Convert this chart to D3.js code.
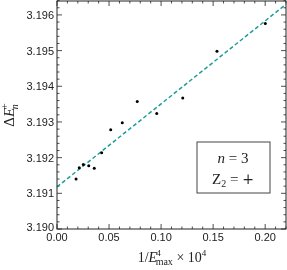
<!DOCTYPE html>
<html>
<head>
<meta charset="utf-8">
<script src="https://cdn.jsdelivr.net/npm/d3@7"></script>
<style>
  body { margin: 0; background: #fff; }
  svg { display: block; }
  .gray { will-change: transform; }
</style>
</head>
<body>
<svg id="chart" width="287" height="270"></svg>
<script>
const W = 287, H = 270;
const MARGIN = { left: 57, right: 1, top: 1, bottom: 41 };

// data
const xVals = [0.0183, 0.0214, 0.0253, 0.0305, 0.0358, 0.0429, 0.0516, 0.0627, 0.0771, 0.0958, 0.1208, 0.1537, 0.2001];
const yVals = [3.19140, 3.19172, 3.19181, 3.19177, 3.19170, 3.19214, 3.19278, 3.19298, 3.19357, 3.19324, 3.19367, 3.19498, 3.19576];
// fitted line: intercept and slope
const fitLine = [3.19118, 0.02327];
const xTicks = [0, 0.05, 0.10, 0.15, 0.20];
const yTicks = [3.190, 3.191, 3.192, 3.193, 3.194, 3.195, 3.196];

const svg = d3.select('#chart');

let x = d3.scaleLinear().domain([0, 0.22]).range([MARGIN.left, W - MARGIN.right]);
let y = d3.scaleLinear().domain([3.190, 3.19639]).range([H - MARGIN.bottom, MARGIN.top]);

const x0 = x.range()[0], x1 = x.range()[1];
const y0 = y.range()[0], y1 = y.range()[1];

// minor ticks
const xMinor = d3.range(0, 0.2201, 0.01);
const yMinor = d3.range(3.190, 3.1964, 0.0002);

const tickG = svg.append('g').attr('stroke', '#222').attr('stroke-width', 0.8);

xMinor.forEach(v => {
    let big = xTicks.some(t => Math.abs(t - v) < 1e-6);
    let len = big ? 5 : 2.5;
    tickG.append('line').attr('x1', x(v)).attr('x2', x(v)).attr('y1', y0).attr('y2', y0 - len);
    tickG.append('line').attr('x1', x(v)).attr('x2', x(v)).attr('y1', y1).attr('y2', y1 + len);
});
yMinor.forEach(v => {
    let big = yTicks.some(t => Math.abs(t - v) < 1e-7);
    let len = big ? 5 : 2.5;
    tickG.append('line').attr('y1', y(v)).attr('y2', y(v)).attr('x1', x0).attr('x2', x0 + len);
    tickG.append('line').attr('y1', y(v)).attr('y2', y(v)).attr('x1', x1).attr('x2', x1 - len);
});

// fit line
svg.append('line')
    .attr('x1', x(0)).attr('y1', y(fitLine[0]))
    .attr('x2', x(0.22)).attr('y2', y(fitLine[0] + fitLine[1] * 0.22))
    .attr('stroke', '#1f9c9c')
    .attr('stroke-width', 1.5)
    .attr('stroke-dasharray', '4,2.5');

// points
svg.append('g')
    .selectAll('circle')
    .data(xVals)
    .enter().append('circle')
    .attr('cx', (d, i) => x(d))
    .attr('cy', (d, i) => y(yVals[i]))
    .attr('r', 1.5)
    .attr('fill', '#000');

// frame
svg.append('rect')
    .attr('x', x0).attr('y', y1)
    .attr('width', x1 - x0).attr('height', y0 - y1)
    .attr('fill', 'none')
    .attr('stroke', '#222')
    .attr('stroke-width', 1);

// tick labels
svg.append('g')
    .selectAll('text')
    .data(xTicks)
    .enter().append('text')
    .attr('x', d => x(d))
    .attr('y', y0 + 12)
    .attr('text-anchor', 'middle')
    .attr('font-family', 'Liberation Sans, Arial, sans-serif')
    .attr('font-size', 11)
    .attr('fill', '#222')
    .text(d => d.toFixed(2));

svg.append('g')
    .selectAll('text')
    .data(yTicks)
    .enter().append('text')
    .attr('x', x0 - 3)
    .attr('y', d => y(d) + (d === 3.190 ? 2 : 4))
    .attr('text-anchor', 'end')
    .attr('font-family', 'Liberation Sans, Arial, sans-serif')
    .attr('font-size', 11)
    .attr('fill', '#222')
    .text(d => d.toFixed(3));

// axis titles
const serif = 'Liberation Serif, Times New Roman, serif';
const xt = svg.append('text')
    .attr('x', 172).attr('y', 262)
    .attr('text-anchor', 'middle')
    .attr('font-family', serif)
    .attr('font-size', 14)
    .attr('fill', '#222');
xt.append('tspan').text('1/');
xt.append('tspan').attr('font-style', 'italic').text('E');
xt.append('tspan').attr('font-size', 9).attr('dy', -6).attr('dx', -1).text('4');
xt.append('tspan').attr('font-size', 10).attr('dy', 9).attr('dx', -5).text('max');
xt.append('tspan').attr('dy', -3).text('\u00a0× 10');
xt.append('tspan').attr('font-size', 9).attr('dy', -6).text('4');

const yt = svg.append('text')
    .attr('transform', 'translate(14,115) rotate(-90)')
    .attr('text-anchor', 'middle')
    .attr('font-family', serif)
    .attr('font-size', 15)
    .attr('fill', '#222');
yt.append('tspan').text('Δ');
yt.append('tspan').attr('font-style', 'italic').text('E');
yt.append('tspan').attr('font-size', 10).attr('dy', -6).attr('dx', -1).text('+');
yt.append('tspan').attr('font-size', 10).attr('font-style', 'italic').attr('dy', 10).attr('dx', -6).text('n');

// legend box
const lg = svg.append('g');
lg.append('rect')
    .attr('x', 197).attr('y', 142)
    .attr('width', 73).attr('height', 51)
    .attr('fill', '#fff')
    .attr('stroke', '#444')
    .attr('stroke-width', 1);
const l1 = lg.append('text')
    .attr('x', 233).attr('y', 163)
    .attr('text-anchor', 'middle')
    .attr('font-family', serif)
    .attr('font-size', 15)
    .attr('fill', '#222');
l1.append('tspan').attr('font-style', 'italic').text('n');
l1.append('tspan').text('\u00a0=\u00a03');
const l2 = lg.append('text')
    .attr('x', 233).attr('y', 184)
    .attr('text-anchor', 'middle')
    .attr('font-family', serif)
    .attr('font-size', 15)
    .attr('fill', '#222');
l2.append('tspan').text('Z');
l2.append('tspan').attr('font-size', 10).attr('dy', 3).text('2');
l2.append('tspan').attr('dy', -3).text('\u00a0=\u00a0');
l2.append('tspan').attr('fill', '#222').attr('font-family', 'DejaVu Serif, serif').attr('font-size', 14).text('+');

svg.classed('gray', true);
</script>
</body>
</html>
